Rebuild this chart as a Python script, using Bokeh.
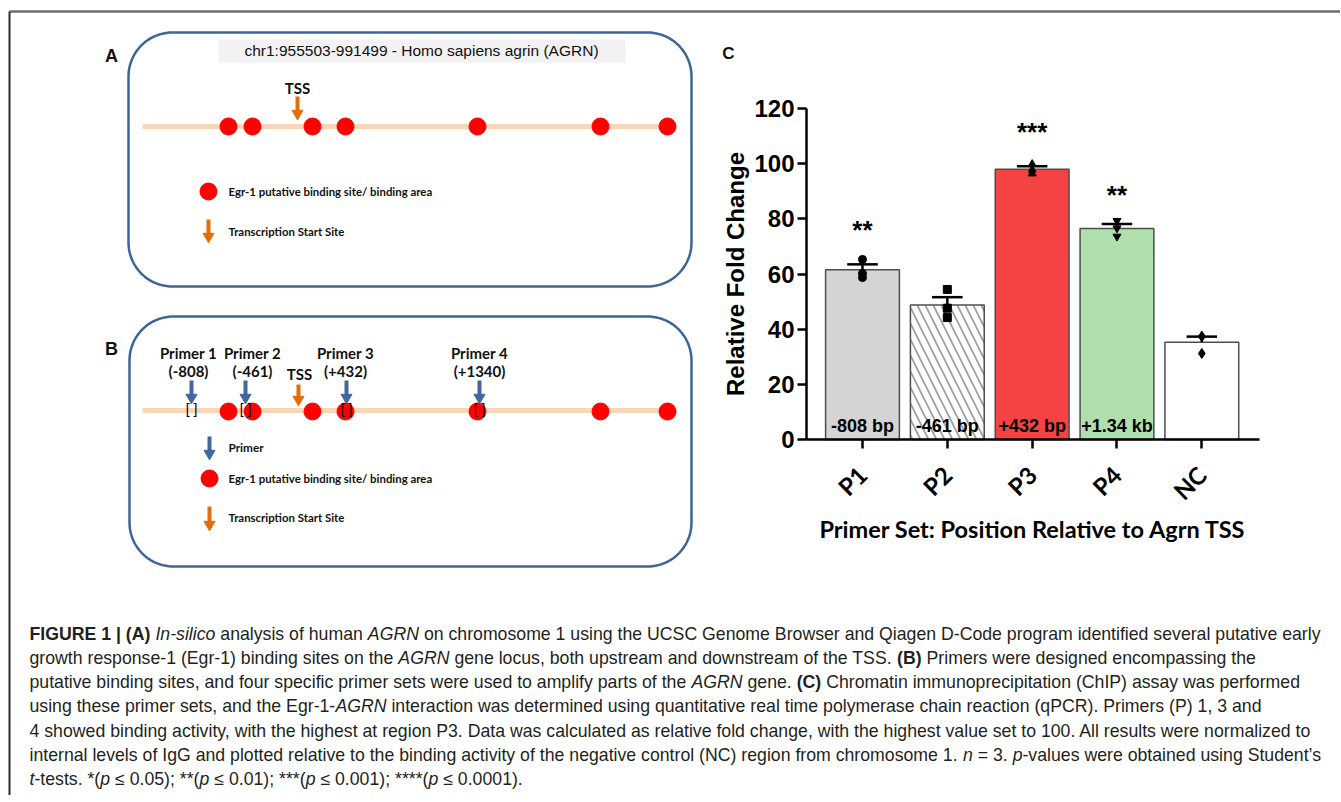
import numpy as np
from bokeh.plotting import figure
from bokeh.models import Range1d, FixedTicker, LinearAxis, ColumnDataSource
from bokeh.embed import file_html
from bokeh.resources import INLINE
from bokeh.core.properties import value

# ---------------- chart C data ----------------
categories = ["P1", "P2", "P3", "P4", "NC"]
means = [61.5, 48.8, 98.0, 76.5, 35.3]
sems = [2.0, 2.8, 1.1, 1.6, 2.0]
rep_p1 = [65.3, 60.2, 58.7]
rep_p2 = [54.4, 47.6, 44.2]
rep_p3 = [99.8, 97.8, 96.4]
rep_p4 = [79.3, 76.6, 73.6]
rep_nc = [37.4, 37.3, 31.2]
bar_labels = ["-808 bp", "-461 bp", "+432 bp", "+1.34 kb", ""]
sig_labels = ["**", "", "***", "**", ""]
sig_heights = [75.8, 0, 111.5, 88.6, 0]
y_ticks = [0, 20, 40, 60, 80, 100, 120]
bar_colors = ["#d4d4d4", "#ffffff", "#f54343", "#aedfac", "#ffffff"]
bar_hatch = [" ", "\\", " ", " ", " "]
rep_markers = ["circle", "square", "triangle", "inverted_triangle", "diamond"]

# ---------------- diagram data (A, B) ----------------
site_px = [228, 252, 312, 345, 477, 600, 667]
tss_px = 297
primer_names = ["Primer 1", "Primer 2", "Primer 3", "Primer 4"]
primer_offsets = ["(-808)", "(-461)", "(+432)", "(+1340)"]
primer_label_px = [188, 252, 345, 479]
primer_px = [191, 245, 346, 479]

ORANGE = "#e46c0a"
BLUE = "#41679b"
RED = "#ff0000"
PEACH = "#fad6b8"
BOXC = "#3f6496"

# ---------------- one canvas in page-pixel units ----------------
W, H = 1340, 795
X0, Y0 = 0, 0
p = figure(width=W, height=H, x_range=Range1d(X0, X0 + W), y_range=Range1d(Y0 + H, Y0),
           x_axis_type=None, y_axis_type=None, output_backend="svg", toolbar_location=None,
           min_border=0, outline_line_color=None)
p.background_fill_color = "white"

# chart C scales (plot area: x 806..1259, y 108..439 on the page)
CX0, CX1, CY_TOP, CY_BOT = 806, 1259, 108, 439
x_lo, x_hi = 0.34, 5.68
y_lo, y_hi = 0, 120
ux = (CX1 - CX0) / (x_hi - x_lo)
uy = (CY_BOT - CY_TOP) / (y_hi - y_lo)
p.extra_x_ranges = {"bx": Range1d(x_lo - (CX0 - X0) / ux, x_hi + (X0 + W - CX1) / ux)}
p.extra_y_ranges = {"by": Range1d(y_lo - (Y0 + H - CY_BOT) / uy, y_hi + (CY_TOP - Y0) / uy)}
C = dict(x_range_name="bx", y_range_name="by")


def txt(x, y, s, size, font="Lato", style="bold", color="#111111", align="center", angle=0, **kw):
    p.text(x=[x], y=[y], text=[s], text_font=value(font), text_font_size=value(f"{size}px"),
           text_font_style=style, text_align=align, text_baseline="middle", text_color=color,
           angle=angle, **kw)


def rounded(x0, y0, x1, y1, r, n=24):
    xs, ys = [], []
    for cx, cy, a0 in [(x1 - r, y0 + r, -90), (x1 - r, y1 - r, 0), (x0 + r, y1 - r, 90), (x0 + r, y0 + r, 180)]:
        t = np.radians(np.linspace(a0, a0 + 90, n))
        xs += list(cx + r * np.cos(t))
        ys += list(cy + r * np.sin(t))
    xs.append(xs[0]); ys.append(ys[0])
    p.line(xs, ys, line_color=BOXC, line_width=2.5)


def arrow(x, y0, y1, color):
    p.segment(x0=[x], y0=[y0], x1=[x], y1=[y1 - 6], line_width=4, line_color=color)
    p.scatter([x], [y1 - 4], marker="inverted_triangle", size=11, fill_color=color, line_color=color)


# outer frame
p.segment(x0=[9], y0=[11], x1=[X0 + W], y1=[11], line_color="#6e6e6e", line_width=2.5)
p.segment(x0=[9], y0=[11], x1=[9], y1=[Y0 + H], line_color="#2a2a2a", line_width=2)

# ---------------- Panel A ----------------
rounded(128, 32, 691, 286, 44)
txt(111, 55, "A", 18, font="Liberation Sans")
p.quad(left=[218], right=[625], top=[39], bottom=[62], fill_color="#f2f2f2", line_color=None)
txt(421, 50, "chr1:955503-991499 - Homo sapiens agrin (AGRN)", 15.5, font="Liberation Sans", style="normal")
p.line([142, 675], [126, 126], line_color=PEACH, line_width=5)
txt(tss_px, 87, "TSS", 15)
arrow(tss_px, 96, 117, ORANGE)
p.scatter(site_px, [126] * len(site_px), size=17, fill_color=RED, line_color=RED)
p.scatter([208], [191], size=17, fill_color=RED, line_color=RED)
txt(228, 191, "Egr-1 putative binding site/ binding area", 11.4, align="left")
arrow(208, 219, 240, ORANGE)
txt(228, 231, "Transcription Start Site", 11.4, align="left")

# ---------------- Panel B ----------------
rounded(129, 316, 691, 566, 44)
txt(111, 348, "B", 18, font="Liberation Sans")
p.line([142, 675], [410, 410], line_color=PEACH, line_width=5)
p.scatter(site_px, [411] * len(site_px), size=17, fill_color=RED, line_color=RED)
for nm, off, lx, ax in zip(primer_names, primer_offsets, primer_label_px, primer_px):
    txt(lx, 352, nm, 15)
    txt(lx, 370, off, 15)
    arrow(ax, 380, 401, BLUE)
    txt(ax, 408, "[ ]", 14, font="Liberation Sans", style="normal", color="#000000")
txt(tss_px + 2, 373, "TSS", 15)
arrow(tss_px + 1, 384, 403, ORANGE)
arrow(209, 436, 457, BLUE)
txt(228, 447, "Primer", 11.8, align="left")
p.scatter([209], [478], size=17, fill_color=RED, line_color=RED)
txt(228, 478, "Egr-1 putative binding site/ binding area", 11.4, align="left")
arrow(209, 506, 528, ORANGE)
txt(228, 517, "Transcription Start Site", 11.4, align="left")

# ---------------- Panel C: bar chart ----------------
x_pos = list(range(1, len(categories) + 1))
src = ColumnDataSource(dict(x=x_pos, top=means, color=bar_colors, hatch=bar_hatch))
p.vbar(x="x", top="top", width=0.87, source=src, fill_color="color", line_color="#4d4d4d",
       line_width=1.5, hatch_pattern="hatch", hatch_color="#a0a0a0", hatch_weight=1.8, hatch_scale=16, **C)

tops = [m + s for m, s in zip(means, sems)]
p.segment(x0=x_pos, y0=means, x1=x_pos, y1=tops, line_color="black", line_width=2.5, **C)
p.segment(x0=[x - 0.18 for x in x_pos], y0=tops, x1=[x + 0.18 for x in x_pos], y1=tops,
          line_color="black", line_width=2.5, **C)

for x, reps, mk in zip(x_pos, [rep_p1, rep_p2, rep_p3, rep_p4, rep_nc], rep_markers):
    p.scatter([x] * len(reps), reps, marker=mk, size=8 if mk != "diamond" else 10,
              fill_color="black", line_color="black", **C)

p.text(x=x_pos[:4], y=[5.0] * 4, text=bar_labels[:4], text_font=value("Liberation Sans"),
       text_font_size=value("18px"), text_font_style="bold", text_align="center",
       text_baseline="middle", text_color="black", **C)

sig_x = [x for x, s in zip(x_pos, sig_labels) if s]
sig_y = [h for h, s in zip(sig_heights, sig_labels) if s]
sig_t = [s for s in sig_labels if s]
p.text(x=sig_x, y=sig_y, text=sig_t, text_font=value("Liberation Sans"), text_font_size=value("26px"),
       text_font_style="bold", text_align="center", text_baseline="middle", text_color="black", **C)

txt(728, 53, "C", 17, font="Liberation Sans")

yax = LinearAxis(fixed_location=x_lo, bounds=(y_lo, y_hi), ticker=FixedTicker(ticks=y_ticks), **C)
xax = LinearAxis(fixed_location=y_lo, bounds=(x_lo, x_hi), ticker=FixedTicker(ticks=x_pos), **C)
for ax in (xax, yax):
    ax.axis_line_width = 2.5
    ax.axis_line_color = "black"
    ax.major_tick_line_width = 2.5
    ax.major_tick_line_color = "black"
    ax.major_tick_out = 9
    ax.major_tick_in = 0
    ax.minor_tick_line_color = None
    ax.major_label_text_color = "black"
    ax.major_label_text_font_style = "bold"

yax.major_label_text_font = "Liberation Sans"
yax.major_label_text_font_size = "24px"
yax.major_label_standoff = 3

xax.major_label_overrides = {x: c for x, c in zip(x_pos, categories)}
xax.major_label_orientation = np.pi / 4
xax.major_label_text_font = "Lato"
xax.major_label_text_font_size = "24px"
xax.major_label_standoff = 22

p.add_layout(yax, "left")
p.add_layout(xax, "below")

# axis titles
txt(735, (CY_TOP + CY_BOT) / 2, "Relative Fold Change", 24, font="Liberation Sans", color="black", angle=np.pi / 2)
txt((CX0 + CX1) / 2, 528, "Primer Set: Position Relative to Agrn TSS", 23.5, color="black")

# ---------------- caption ----------------
W_REG = [278,278,355,556,556,889,667,191,333,333,389,584,278,333,278,278,
         556,556,556,556,556,556,556,556,556,556,
         278,278,584,584,584,556,1015,
         667,667,722,722,667,611,778,722,278,500,667,556,833,722,778,667,778,722,667,611,722,667,944,667,667,611,
         278,278,278,469,556,333,
         556,556,500,556,556,278,556,556,222,222,500,222,833,556,556,556,556,333,500,278,556,500,722,500,500,500,
         334,260,334,584]
W_BOLD = [278,333,474,556,556,889,722,238,333,333,389,584,278,333,278,278,
          556,556,556,556,556,556,556,556,556,556,
          333,333,584,584,584,611,975,
          722,722,722,722,667,611,778,722,278,556,722,611,833,722,778,667,778,722,667,611,722,667,944,667,667,611,
          333,278,333,584,556,333,
          556,611,556,611,556,333,611,611,278,278,556,278,889,611,611,611,611,389,556,333,611,556,778,556,556,500,
          389,280,389,584]
EXTRA_W = {"\u2019": (222, 278), "\u2264": (549, 549)}


def em_width(s, bold=False):
    tot = 0
    for ch in s:
        o = ord(ch)
        if 32 <= o <= 126:
            tot += (W_BOLD if bold else W_REG)[o - 32]
        else:
            tot += EXTRA_W.get(ch, (556, 556))[1 if bold else 0]
    return tot / 1000.0


caption_lines = [
    [("FIGURE 1 | (A)", "b"), (" ", "n"), ("In-silico", "i"), (" analysis of human ", "n"), ("AGRN", "i"),
     (" on chromosome 1 using the UCSC Genome Browser and Qiagen D-Code program identified several putative early", "n")],
    [("growth response-1 (Egr-1) binding sites on the ", "n"), ("AGRN", "i"),
     (" gene locus, both upstream and downstream of the TSS. ", "n"), ("(B)", "b"),
     (" Primers were designed encompassing the", "n")],
    [("putative binding sites, and four specific primer sets were used to amplify parts of the ", "n"), ("AGRN", "i"),
     (" gene. ", "n"), ("(C)", "b"), (" Chromatin immunoprecipitation (ChIP) assay was performed", "n")],
    [("using these primer sets, and the Egr-1-", "n"), ("AGRN", "i"),
     (" interaction was determined using quantitative real time polymerase chain reaction (qPCR). Primers (P) 1, 3 and", "n")],
    [("4 showed binding activity, with the highest at region P3. Data was calculated as relative fold change, with the highest value set to 100. All results were normalized to", "n")],
    [("internal levels of IgG and plotted relative to the binding activity of the negative control (NC) region from chromosome 1. ", "n"),
     ("n", "i"), (" = 3. ", "n"), ("p", "i"), ("-values were obtained using Student\u2019s", "n")],
    [("t", "i"), ("-tests. *(", "n"), ("p", "i"), (" \u2264 0.05); **(", "n"), ("p", "i"), (" \u2264 0.01); ***(", "n"),
     ("p", "i"), (" \u2264 0.001); ****(", "n"), ("p", "i"), (" \u2264 0.0001).", "n")],
]
line_y = [633, 657.3, 681.6, 705.9, 730.2, 754.5, 778.8]

fs = 1292.0 / max(sum(em_width(t, st == "b") for t, st in ln) for ln in caption_lines)
styles = {"n": "normal", "b": "bold", "i": "italic"}
buckets = {k: dict(x=[], y=[], text=[]) for k in styles}
for segs, yy in zip(caption_lines, line_y):
    x = 29.0
    for t, st in segs:
        b = st == "b"
        lead = len(t) - len(t.lstrip(" "))
        if t.strip():
            buckets[st]["x"].append(x + em_width(" " * lead, b) * fs)
            buckets[st]["y"].append(yy)
            buckets[st]["text"].append(t.strip())
        x += em_width(t, b) * fs
for st, d in buckets.items():
    p.text(x="x", y="y", text="text", source=ColumnDataSource(d), text_font=value("Liberation Sans"),
           text_font_size=value(f"{fs:.2f}px"), text_font_style=styles[st], text_align="left",
           text_baseline="middle", text_color="#231f20")

open("out.html", "w").write(file_html(p, INLINE))
